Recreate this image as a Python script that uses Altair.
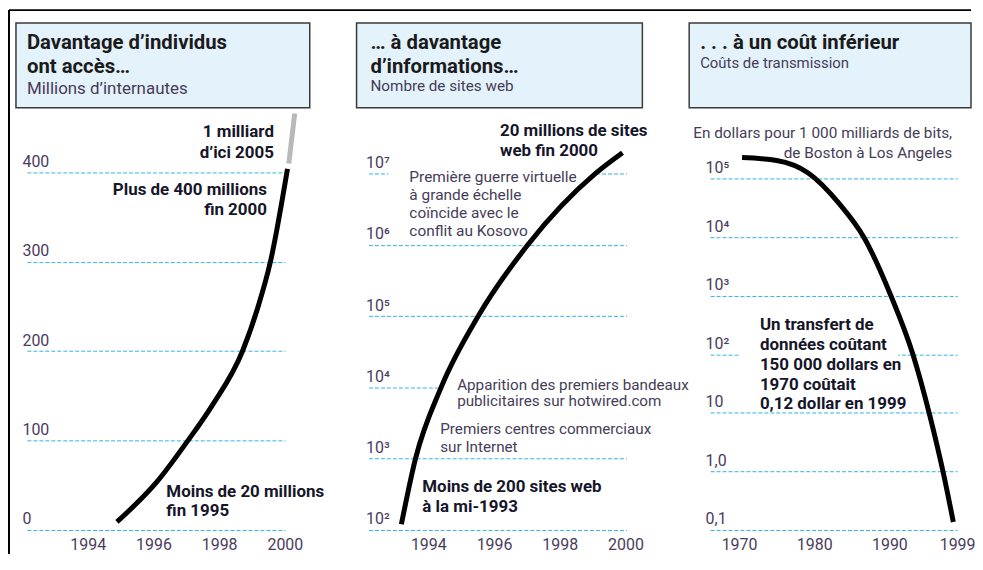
import json
import altair as alt
import pandas as pd

# ---------------- data ----------------
# Panel 1 : internet users (millions)
users_years = [1994.89, 1996.11, 1997.05, 1997.8, 1998.71, 1999.17, 1999.56, 2000.08]
users_millions = [9, 54, 100, 140, 200, 248, 300, 404]
proj_years = [2000.12, 2000.3]
proj_millions = [410, 466]

# Panel 2 : number of web sites
sites_years = [1993.18, 1993.61, 1994.39, 1995.52, 1997.03, 1999.09, 1999.91]
sites_counts = [120, 1000, 10000, 100000, 1000000, 10000000, 19500000]

# Panel 3 : transmission cost (dollars)
cost_years = [1970.4, 1975.0, 1979.2, 1983.3, 1986.6, 1990.2, 1993.1, 1995.4, 1997.2, 1998.5]
cost_dollars = [229000, 204000, 125000, 37800, 10000, 1000, 102, 8.7, 0.9, 0.137]

# ticks / labels
x1_ticks = [1994, 1996, 1998, 2000]
y1_ticks = [0, 100, 200, 300, 400]
x2_ticks = [1994, 1996, 1998, 2000]
y2_ticks = [100, 1000, 10000, 100000, 1000000, 10000000]
y2_labels = ["10²", "10³", "10⁴", "10⁵", "10⁶", "10⁷"]
x3_ticks = [1970, 1980, 1990, 1999]
y3_ticks = [0.1, 1, 10, 100, 1000, 10000, 100000]
y3_labels = ["0,1", "1,0", "10", "10²", "10³", "10⁴", "10⁵"]

titles = ["Davantage d’individus\nont accès…", "… à davantage\nd’informations…", ". . . à un coût inférieur"]
subtitles = ["Millions d’internautes", "Nombre de sites web", "Coûts de transmission"]

# ---------------- style ----------------
FONT = "Roboto"
GRID = "#33b2e6"
LABEL = "#4a3c5c"
REG = "#463c58"
BOLD = "#16162a"
TITLE = "#1b1b1b"
BOXFILL = "#e4f2fb"
H = 418

one = pd.DataFrame({"k": [0]})


def label_expr(ticks, labels):
    return (json.dumps(labels, ensure_ascii=False) + "[indexof(" + json.dumps(ticks) + ", datum.value)]")


def y_axis(ticks, pad, expr=None):
    kw = dict(values=ticks, orient="left", domain=False, ticks=False, tickSize=0, grid=True,
              gridColor=GRID, gridDash=[4, 2], gridWidth=1, labelAlign="left",
              labelBaseline="alphabetic", labelPadding=pad, labelOffset=-6,
              labelFontSize=16, labelColor=LABEL, labelFont=FONT, labelOverlap=False,
              labelFlush=False, title=None)
    if expr:
        kw["labelExpr"] = expr
    return alt.Axis(**kw)


def x_axis(ticks):
    return alt.Axis(values=ticks, orient="bottom", domain=False, ticks=False, tickSize=0,
                    grid=False, labelPadding=7, labelFontSize=16, labelColor=LABEL,
                    labelFont=FONT, labelFlush=False, labelOverlap=False, format="d", title=None)


def ptext(txt, x, y, size=17, weight="bold", align="left", lh=20, color=BOLD, font=FONT):
    return alt.Chart(one).mark_text(
        text=txt, lineBreak="\n", lineHeight=lh, align=align, baseline="alphabetic",
        fontSize=size, fontWeight=weight, color=color, font=font
    ).encode(x=alt.value(x), y=alt.value(y))


def prect(x, x2, y, y2, fill="white", stroke=None, sw=0):
    kw = dict(fill=fill)
    if stroke:
        kw.update(stroke=stroke, strokeWidth=sw)
    return alt.Chart(one).mark_rect(**kw).encode(
        x=alt.value(x), x2=alt.value(x2), y=alt.value(y), y2=alt.value(y2))


def title_box(x, x2, tx, title, sub, sub_y, sub_size):
    return [
        prect(x, x2, -91, -6, fill=BOXFILL, stroke="#3a3a3a", sw=1.5),
        ptext(title, tx, -65, size=20.4, weight="bold", lh=24, color=TITLE),
        ptext(sub, tx, sub_y, size=sub_size, weight="normal", color=REG),
    ]


# ---------------- panel 1 ----------------
X1 = alt.X("year:Q", scale=alt.Scale(domain=[1992.15, 2000], nice=False, zero=False), axis=x_axis(x1_ticks))
Y1 = alt.Y("value:Q", scale=alt.Scale(domain=[0, 465.7], nice=False, zero=False), axis=y_axis(y1_ticks, 5))

users = pd.DataFrame({"year": users_years, "value": users_millions})
proj = pd.DataFrame({"year": proj_years, "value": proj_millions})

p1 = alt.layer(
    alt.Chart(users).mark_line(color="black", strokeWidth=5, interpolate="monotone").encode(x=X1, y=Y1),
    alt.Chart(proj).mark_line(color="#b9b9b9", strokeWidth=5).encode(x=X1, y=Y1),
    ptext("1 milliard\nd’ici 2005", 248, 23, align="right", lh=21),
    ptext("Plus de 400 millions\nfin 2000", 241, 82, align="right", lh=20),
    ptext("Moins de 20 millions\n\u00a0fin 1995", 140, 385, lh=19),
    *title_box(-11, 284, 0, titles[0], subtitles[0], -20, 17),
    # outer frame
    alt.Chart(one).mark_rule(color="black", strokeWidth=2).encode(
        x=alt.value(-18), y=alt.value(-104), y2=alt.value(442)),
    alt.Chart(one).mark_rule(color="black", strokeWidth=2).encode(
        x=alt.value(-18), x2=alt.value(948), y=alt.value(-104)),
).properties(width=259, height=H)

# ---------------- panel 2 ----------------
X2 = alt.X("year:Q", scale=alt.Scale(domain=[1992.18, 2000.03], nice=False, zero=False), axis=x_axis(x2_ticks))
Y2 = alt.Y("value:Q", scale=alt.Scale(type="log", domain=[100, 10 ** 7.838], nice=False, zero=False),
           axis=y_axis(y2_ticks, 3, label_expr(y2_ticks, y2_labels)))

sites = pd.DataFrame({"year": sites_years, "value": sites_counts})

p2 = alt.layer(
    prect(20, 227, 57, 63),
    prect(73, 265, 272, 278),
    alt.Chart(sites).mark_line(color="black", strokeWidth=5, interpolate="monotone").encode(x=X2, y=Y2),
    ptext("20 millions de sites\nweb fin 2000", 132, 22, lh=20),
    ptext("Première guerre virtuelle\nà grande échelle\ncoïncide avec le\nconflit au Kosovo", 41, 69,
          size=15.5, weight="normal", lh=18, color=REG),
    ptext("Apparition des premiers bandeaux\npublicitaires sur hotwired.com", 89, 277,
          size=15.3, weight="normal", lh=17, color=REG),
    ptext("Premiers centres commerciaux\nsur Internet", 72, 322, size=15.3, weight="normal", lh=18, color=REG),
    ptext("Moins de 200 sites web\nà la mi-1993", 54, 380, lh=20),
    *title_box(-12, 275, 2, titles[1], subtitles[1], -22.5, 15.3),
).properties(width=259, height=H)

# ---------------- panel 3 ----------------
X3 = alt.X("year:Q", scale=alt.Scale(domain=[1966.15, 1999], nice=False, zero=False), axis=x_axis(x3_ticks))
Y3 = alt.Y("value:Q", scale=alt.Scale(type="log", domain=[0.1, 10 ** 6.109], nice=False, zero=False),
           axis=y_axis(y3_ticks, 5, label_expr(y3_ticks, y3_labels)))

cost = pd.DataFrame({"year": cost_years, "value": cost_dollars})

p3 = alt.layer(
    prect(29, 189, 238, 245),
    alt.Chart(cost).mark_line(color="black", strokeWidth=5, interpolate="monotone").encode(x=X3, y=Y3),
    ptext("En dollars pour 1 000 milliards de bits,\nde Boston à Los Angeles", 243, 24,
          size=15.4, weight="normal", align="right", lh=20, color=REG),
    ptext("Un transfert de\ndonnées coûtant\n150 000 dollars en\n1970 coûtait\n0,12 dollar en 1999", 50, 217,
          lh=20),
    *title_box(-21, 262, -10, titles[2], subtitles[2], -45.5, 15),
).properties(width=248, height=H)

chart = alt.hconcat(p1, p2, p3, spacing=84, bounds="flush").properties(
    padding=0, background="white"
).configure_view(stroke=None)

chart.save("out.html", embed_options={"renderer": "svg", "actions": False})
